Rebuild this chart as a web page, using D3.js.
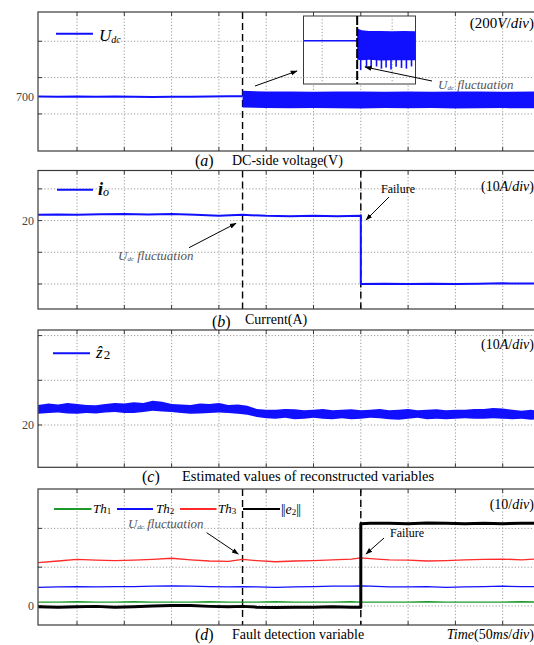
<!DOCTYPE html>
<html>
<head>
<meta charset="utf-8">
<script src="https://cdn.jsdelivr.net/npm/d3@7"></script>
<style>
  body { margin: 0; background: #fff; }
  svg { display: block; font-family: "Liberation Serif", "Times New Roman", serif; }
  .grid line { stroke: #9a9a9a; stroke-width: 1; stroke-dasharray: 1.2,2; }
  .frame { fill: none; stroke: #3a3a3a; stroke-width: 1.2; }
  .tick { stroke: #3a3a3a; stroke-width: 1; }
</style>
</head>
<body>
<svg id="chart" width="534" height="645"></svg>
<script>
// ---- data ----
// time axis in ms, grid every 50 ms
const timeGrid = [50, 100, 150, 200, 250, 300, 350, 400, 450, 500];
const tFluct = 225;   // U_dc fluctuation starts
const tFail = 350;    // failure

// (a) DC-side voltage
const tUdcPre = [9, 30, 50, 70, 90, 110, 130, 150, 170, 190, 210, 225];
const udcPre = [700, 699, 700, 698, 700, 699, 697, 698, 699, 700, 701, 701];
const tUdcBand = [225, 250, 275, 300, 325, 350, 375, 400, 425, 450, 475, 500, 536];
const udcHigh = [731, 727, 728, 726, 727, 728, 726, 727, 726, 728, 727, 726, 727];
const udcLow = [640, 637, 635, 637, 635, 634, 636, 635, 636, 634, 635, 636, 635];
const gridA = [604, 804, 1004];
const labelsA = [700];

// inset of (a)
const tInsetPre = [202, 210, 218, 225];
const udcInsetPre = [700, 700, 700, 700];
const tInsetBand = [225, 227, 230, 235, 240, 245, 250];
const udcInsetHigh = [734, 729, 727, 727, 726, 727, 726];
const udcInsetLow = [648, 647, 648, 646, 647, 647, 647];
const tSpikes = [226.5, 229, 231, 233.3, 235.4, 237.4, 239.5, 241.7, 244, 246.1, 248.3];
const udcSpikeMin = [620, 628, 625, 630, 624, 627, 622, 629, 626, 624, 630];
const insetGridT = [210, 240];
const insetGridV = [600, 700];

// (b) current
const tIo = [9, 30, 50, 75, 100, 125, 150, 175, 200, 225, 250, 275, 300, 325, 350, 350, 375, 400, 425, 450, 475, 500, 536];
const io = [21.8, 21.9, 21.8, 22.0, 22.1, 21.9, 22.1, 21.8, 21.5, 21.8, 21.5, 21.4, 21.5, 21.4, 21.5, 0.0, 0.1, 0.0, 0.1, 0.0, 0.1, 0.2, 0.1];
const gridB = [0, 10, 20, 30];
const labelsB = [20];

// (c) estimated z2 (noisy band: upper / lower envelope)
const tZ = [9, 20, 30, 40, 50, 60, 70, 80, 90, 100, 110, 120, 130, 140, 150, 160, 170, 180, 190, 200,
  210, 220, 230, 240, 250, 260, 270, 280, 290, 300, 310, 320, 330, 340, 350, 360, 370, 380, 390, 400,
  410, 420, 430, 440, 450, 460, 470, 480, 490, 500, 510, 520, 530, 536];
const zHigh = [24.5, 24.8, 24.6, 24.9, 24.7, 24.5, 24.4, 24.7, 24.9, 24.8, 25.1, 24.9, 25.4, 25.2, 24.7, 24.6, 24.5, 24.8, 24.7, 24.9,
  24.5, 24.6, 24.3, 23.6, 23.4, 23.4, 23.6, 23.5, 23.3, 23.4, 23.6, 23.3, 23.4, 23.5, 23.3, 23.4, 23.6, 23.3, 23.4, 23.6,
  23.3, 23.4, 23.5, 23.3, 23.4, 23.4, 23.6, 23.6, 23.8, 23.7, 23.4, 23.2, 23.4, 23.2];
const zLow = [22.5, 22.7, 22.8, 22.6, 22.5, 22.7, 22.6, 22.8, 22.9, 22.7, 22.7, 22.9, 23.2, 23.0, 22.9, 22.7, 22.5, 22.6, 22.7, 22.8,
  22.7, 22.5, 22.3, 21.8, 21.5, 21.4, 21.6, 21.3, 21.4, 21.6, 21.4, 21.3, 21.5, 21.3, 21.4, 21.6, 21.5, 21.3, 21.2, 21.4,
  21.6, 21.3, 21.4, 21.3, 21.4, 21.5, 21.4, 21.4, 21.5, 21.4, 21.3, 21.4, 21.2, 21.3];
const gridC = [20, 30, 40];
const labelsC = [20];

// (d) fault detection variable
const tD = [9, 30, 50, 70, 90, 110, 130, 150, 170, 190, 210, 225, 240, 260, 280, 300, 320, 340, 350, 360, 380, 400, 420, 440, 460, 480, 500, 520, 536];
const th1 = [1.0, 1.0, 1.1, 1.0, 1.0, 1.1, 1.0, 1.0, 1.0, 1.1, 1.0, 1.0, 1.0, 1.1, 1.0, 1.0, 1.0, 1.1, 1.0, 1.0, 1.0, 1.0, 1.1, 1.0, 1.0, 1.0, 1.0, 1.1, 1.0];
const th2 = [4.8, 4.9, 5.0, 4.9, 5.0, 5.0, 5.1, 5.2, 5.1, 5.0, 4.9, 5.0, 4.9, 4.8, 4.9, 5.0, 5.1, 5.1, 5.2, 5.1, 4.9, 4.9, 5.0, 4.8, 4.9, 5.0, 5.1, 5.0, 5.0];
const th3 = [11.2, 11.6, 12.0, 11.8, 11.7, 11.8, 12.0, 12.3, 11.9, 11.6, 11.5, 12.0, 11.7, 11.4, 11.6, 11.7, 11.9, 12.1, 12.4, 12.2, 11.9, 11.8, 11.6, 11.7, 11.9, 12.0, 12.1, 11.9, 12.1];
const tE = [9, 30, 50, 70, 90, 110, 130, 150, 170, 190, 210, 225, 240, 260, 280, 300, 320, 340, 350, 350, 360, 380, 400, 420, 440, 460, 480, 500, 520, 536];
const e2 = [-0.2, -0.3, -0.2, -0.1, -0.3, -0.2, 0.0, 0.1, 0.1, -0.1, -0.2, -0.1, -0.3, -0.4, -0.3, -0.3, -0.2, -0.3, -0.3, 21.2, 21.3, 21.3, 21.2, 21.4, 21.3, 21.2, 21.3, 21.2, 21.3, 21.3];
const gridD = [0, 10, 20];
const labelsD = [0];

// ---- layout ----
const BLUE = "#1010ff", RED = "#ff2a2a", GREEN = "#1f9a2a", BLACK = "#000";
const LEFT = 38, RIGHT = 537;
const svg = d3.select("#chart");

const x = d3.scaleLinear().domain([50, 500]).range([77, 502.7]);

// arrow head marker
svg.append("defs").append("marker")
  .attr("id", "arrow")
  .attr("viewBox", "0 0 10 10")
  .attr("refX", 9).attr("refY", 5)
  .attr("markerWidth", 7).attr("markerHeight", 7)
  .attr("markerUnits", "userSpaceOnUse")
  .attr("orient", "auto")
  .append("path").attr("d", "M0,1.5 L10,5 L0,8.5 Z").attr("fill", "#000");

function makePanel(top, bottom, yDomain, gridVals, labelVals, dashedAt) {
  const y = d3.scaleLinear().domain(yDomain).range([bottom, top]);
  const g = svg.append("g");
  const clipId = "clip" + Math.round(top);
  g.append("clipPath").attr("id", clipId)
    .append("rect").attr("x", LEFT).attr("y", top).attr("width", RIGHT - LEFT).attr("height", bottom - top);

  // dotted grid
  const grid = g.append("g").attr("class", "grid");
  grid.selectAll(".gx").data(timeGrid).join("line")
    .attr("x1", d => x(d)).attr("x2", d => x(d)).attr("y1", top).attr("y2", bottom);
  grid.selectAll(".gy").data(gridVals).join("line")
    .attr("x1", LEFT).attr("x2", RIGHT).attr("y1", d => y(d)).attr("y2", d => y(d));

  // inward ticks
  const ticks = g.append("g");
  timeGrid.forEach(t => {
    ticks.append("line").attr("class", "tick").attr("x1", x(t)).attr("x2", x(t)).attr("y1", top).attr("y2", top + 4);
    ticks.append("line").attr("class", "tick").attr("x1", x(t)).attr("x2", x(t)).attr("y1", bottom).attr("y2", bottom - 4);
  });
  gridVals.forEach(v => {
    ticks.append("line").attr("class", "tick").attr("x1", LEFT).attr("x2", LEFT + 4).attr("y1", y(v)).attr("y2", y(v));
  });

  // y labels
  g.selectAll(".ylab").data(labelVals).join("text")
    .attr("x", LEFT - 4).attr("y", d => y(d)).attr("dy", "0.35em")
    .attr("text-anchor", "end")
    .style("font-family", "'Liberation Serif', serif")
    .style("font-size", "12px").style("font-weight", "400")
    .attr("fill", "#444")
    .text(d => d);

  // dashed event lines
  (dashedAt || []).forEach(t => {
    g.append("line").attr("x1", x(t)).attr("x2", x(t)).attr("y1", top).attr("y2", bottom)
      .attr("stroke", "#000").attr("stroke-width", 1.4).attr("stroke-dasharray", "7,4");
  });

  const plot = g.append("g").attr("clip-path", `url(#${clipId})`);
  return { g, plot, y, top, bottom };
}

function frame(p) {
  p.g.append("rect").attr("class", "frame")
    .attr("x", LEFT).attr("y", p.top).attr("width", RIGHT + 10 - LEFT).attr("height", p.bottom - p.top);
}

function drawLine(p, ts, vs, color, width) {
  const line = d3.line().x(d => x(d[0])).y(d => p.y(d[1]));
  return p.plot.append("path").datum(d3.zip(ts, vs))
    .attr("d", line).attr("fill", "none").attr("stroke", color)
    .attr("stroke-width", width).attr("stroke-linejoin", "round");
}

function drawBand(target, ts, hi, lo, color, xs, ys) {
  const area = d3.area().x(d => xs(d[0])).y0(d => ys(d[2])).y1(d => ys(d[1]));
  target.append("path").datum(d3.zip(ts, hi, lo)).attr("d", area).attr("fill", color);
}

// rich text: parts = [{t, italic, bold, size, dy}]
function richText(parent, px, py, parts, opts = {}) {
  const txt = parent.append("text").attr("x", px).attr("y", py)
    .attr("fill", opts.fill || "#000").attr("font-size", opts.size || 14)
    .attr("text-anchor", opts.anchor || "start");
  parts.forEach(p => {
    const s = txt.append("tspan").text(p.t);
    if (p.italic) s.attr("font-style", "italic");
    if (p.bold) s.attr("font-weight", "bold");
    if (p.size) s.attr("font-size", p.size);
    if (p.dy) s.attr("dy", p.dy);
    if (p.dx) s.attr("dx", p.dx);
    if (p.ls) s.attr("letter-spacing", p.ls);
  });
  return txt;
}

function arrow(x1, y1, x2, y2) {
  svg.append("line").attr("x1", x1).attr("y1", y1).attr("x2", x2).attr("y2", y2)
    .attr("stroke", "#000").attr("stroke-width", 1).attr("marker-end", "url(#arrow)");
}

function legendLine(x1, x2, yy, color, w) {
  svg.append("line").attr("x1", x1).attr("x2", x2).attr("y1", yy).attr("y2", yy)
    .attr("stroke", color).attr("stroke-width", w || 2);
}

function udcLabel(px, py) {
  richText(svg, px, py, [
    { t: "U", italic: true },
    { t: "dc", italic: true, size: 7, dy: 1 },
    { t: " fluctuation", italic: true, dy: -1 }
  ], { size: 13, fill: "#555" });
}

// ---------- (a) ----------
const pA = makePanel(12, 151, [400, 1165], gridA, labelsA, [tFluct]);
drawLine(pA, tUdcPre, udcPre, BLUE, 2);
drawBand(pA.plot, tUdcBand, udcHigh, udcLow, BLUE, x, pA.y);
frame(pA);

// inset
const ix = d3.scaleLinear().domain([202, 250]).range([303.5, 415.5]);
const iy = d3.scaleLinear().domain([582, 768]).range([84, 16]);
const inset = svg.append("g");
inset.append("rect").attr("x", 303.5).attr("y", 16).attr("width", 112).attr("height", 68)
  .attr("fill", "#fff").attr("stroke", "#3a3a3a").attr("stroke-width", 1);
const ig = inset.append("g").attr("class", "grid");
ig.selectAll(".ix").data(insetGridT).join("line")
  .attr("x1", d => ix(d)).attr("x2", d => ix(d)).attr("y1", 16).attr("y2", 84);
ig.selectAll(".iy").data(insetGridV).join("line")
  .attr("x1", 303.5).attr("x2", 415.5).attr("y1", d => iy(d)).attr("y2", d => iy(d));
inset.append("path").datum(d3.zip(tInsetPre, udcInsetPre))
  .attr("d", d3.line().x(d => ix(d[0])).y(d => iy(d[1])))
  .attr("fill", "none").attr("stroke", BLUE).attr("stroke-width", 1.5);
drawBand(inset, tInsetBand, udcInsetHigh, udcInsetLow, BLUE, ix, iy);
inset.selectAll(".spike").data(d3.zip(tSpikes, udcSpikeMin)).join("line")
  .attr("x1", d => ix(d[0])).attr("x2", d => ix(d[0]))
  .attr("y1", iy(660)).attr("y2", d => iy(d[1]))
  .attr("stroke", BLUE).attr("stroke-width", 1.6);
inset.append("line").attr("x1", ix(tFluct)).attr("x2", ix(tFluct)).attr("y1", 16).attr("y2", 84)
  .attr("stroke", "#000").attr("stroke-width", 2).attr("stroke-dasharray", "9,2");

legendLine(56, 93, 33.7, BLUE);
richText(svg, 99, 41, [
  { t: "U", italic: true },
  { t: "dc", italic: true, size: 10, dy: 2 }
], { size: 17 });
richText(svg, 534, 28, [
  { t: "(200" }, { t: "V", italic: true }, { t: "/" }, { t: "div", italic: true }, { t: ")" }
], { size: 15, anchor: "end" });
arrow(255, 86, 297, 71);
arrow(432, 81, 365, 67);
udcLabel(438, 89);
richText(svg, 195, 166, [{ t: "(" }, { t: "a", italic: true }, { t: ")" }], { size: 16 });
richText(svg, 232, 165, [{ t: "DC-side voltage(V)" }], { size: 14 });

// ---------- (b) ----------
const pB = makePanel(170.5, 309, [-7.9, 35.8], gridB, labelsB, [tFluct, tFail]);
drawLine(pB, tIo, io, BLUE, 2);
frame(pB);
legendLine(57, 93, 189.7, BLUE);
richText(svg, 98, 195, [
  { t: "i", italic: true, bold: true },
  { t: "o", italic: true, size: 12, dy: 1 }
], { size: 18 });
richText(svg, 534, 191, [
  { t: "(10" }, { t: "A", italic: true }, { t: "/" }, { t: "div", italic: true }, { t: ")" }
], { size: 14, anchor: "end" });
richText(svg, 381, 193, [{ t: "Failure" }], { size: 12 });
arrow(389, 197, 366, 220);
udcLabel(118, 259.5);
arrow(189, 247.7, 236, 223.3);
richText(svg, 212, 327, [{ t: "(" }, { t: "b", italic: true }, { t: ")" }], { size: 16 });
richText(svg, 245, 323.5, [{ t: "Current(A)" }], { size: 14 });

// ---------- (c) ----------
const pC = makePanel(330, 467.3, [10.54, 41.25], gridC, labelsC, []);
drawBand(pC.plot, tZ, zHigh, zLow, BLUE, x, pC.y);
frame(pC);
legendLine(53, 90, 353.3, BLUE);
richText(svg, 96, 358, [
  { t: "\u1E91", italic: true },
  { t: "2", size: 13, dy: 1, dx: 1 }
], { size: 17 });
richText(svg, 534, 349, [
  { t: "(10" }, { t: "A", italic: true }, { t: "/" }, { t: "div", italic: true }, { t: ")" }
], { size: 14, anchor: "end" });
richText(svg, 142, 482, [{ t: "(" }, { t: "c", italic: true }, { t: ")" }], { size: 16 });
richText(svg, 182, 481, [{ t: "Estimated values of reconstructed variables" }], { size: 14.5 });

// ---------- (d) ----------
const pD = makePanel(489, 625, [-4.9, 30.15], gridD, labelsD, [tFluct, tFail]);
drawLine(pD, tD, th1, GREEN, 1.4);
drawLine(pD, tD, th2, BLUE, 1.3);
drawLine(pD, tD, th3, RED, 1.3);
drawLine(pD, tE, e2, BLACK, 3);
frame(pD);

legendLine(54, 91.5, 509, GREEN);
richText(svg, 93, 513, [{ t: "Th", italic: true }, { t: "1", size: 9, dy: 1 }], { size: 13 });
legendLine(117, 153, 509, BLUE);
richText(svg, 156, 513, [{ t: "Th", italic: true }, { t: "2", size: 9, dy: 1 }], { size: 13 });
legendLine(180, 216.5, 509, RED);
richText(svg, 218, 513, [{ t: "Th", italic: true }, { t: "3", size: 9, dy: 1 }], { size: 13 });
legendLine(243, 280, 509, BLACK);
richText(svg, 281, 514, [
  { t: "||", ls: -1 }, { t: "e", italic: true, dx: 1 }, { t: "2", size: 9, dy: 1 }, { t: "||", ls: -1, dy: -1 }
], { size: 14 });
richText(svg, 534, 509, [
  { t: "(10/" }, { t: "div", italic: true }, { t: ")" }
], { size: 14, anchor: "end" });
udcLabel(128, 528);
arrow(206.7, 532.7, 238.3, 554);
richText(svg, 390, 537, [{ t: "Failure" }], { size: 12 });
arrow(384, 538, 366, 554);
richText(svg, 195, 640, [{ t: "(" }, { t: "d", italic: true }, { t: ")" }], { size: 16 });
richText(svg, 232, 639, [{ t: "Fault detection variable" }], { size: 14 });
richText(svg, 534, 639, [
  { t: "Time", italic: true }, { t: "(50" }, { t: "ms", italic: true }, { t: "/" }, { t: "div", italic: true }, { t: ")" }
], { size: 14, anchor: "end" });
</script>
</body>
</html>
